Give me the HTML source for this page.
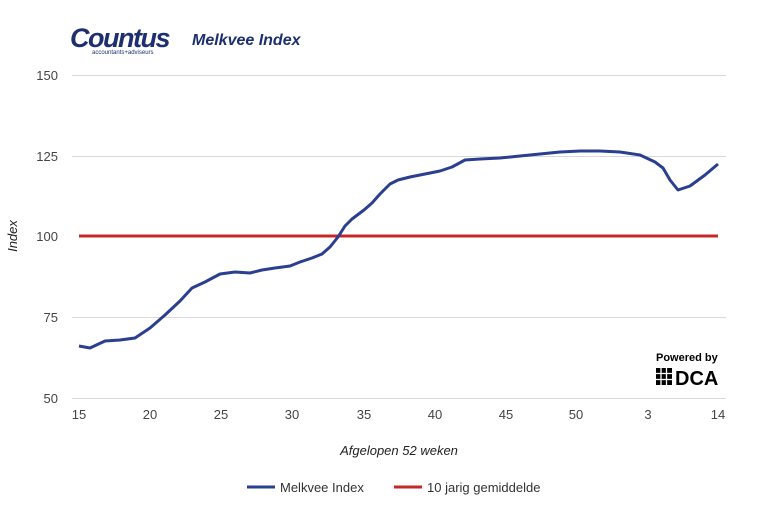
<!DOCTYPE html>
<html><head><meta charset="utf-8"><style>
body{margin:0;background:#fff;width:772px;height:512px;overflow:hidden;font-family:"Liberation Sans",sans-serif}
</style></head><body>
<svg width="772" height="512" xmlns="http://www.w3.org/2000/svg" font-family="Liberation Sans, sans-serif">
<text x="70" y="47" font-size="27" font-weight="bold" fill="#1d2f6e" font-style="italic" letter-spacing="-1.5">Countus</text>
<text x="92" y="54" font-size="6" fill="#1d2f6e">accountants+adviseurs</text>
<text x="192" y="45" font-size="16" font-weight="bold" font-style="italic" fill="#1d2f6e">Melkvee Index</text>
<g stroke="#d9d9d9" stroke-width="1">
<line x1="72" x2="726" y1="75.5" y2="75.5"/>
<line x1="72" x2="726" y1="156.5" y2="156.5"/>
<line x1="72" x2="726" y1="317.5" y2="317.5"/>
<line x1="72" x2="726" y1="398.5" y2="398.5"/>
</g>
<g font-size="13" fill="#444" text-anchor="end">
<text x="58" y="80">150</text><text x="58" y="161">125</text><text x="58" y="241">100</text><text x="58" y="322">75</text><text x="58" y="403">50</text>
</g>
<text transform="translate(17,236) rotate(-90)" font-size="13" font-style="italic" fill="#222" text-anchor="middle">Index</text>
<g font-size="13" fill="#444" text-anchor="middle">
<text x="79" y="419">15</text><text x="150" y="419">20</text><text x="221" y="419">25</text><text x="292" y="419">30</text><text x="364" y="419">35</text><text x="435" y="419">40</text><text x="506" y="419">45</text><text x="576" y="419">50</text><text x="648" y="419">3</text><text x="718" y="419">14</text>
</g>
<text x="399" y="455" font-size="13" font-style="italic" fill="#222" text-anchor="middle">Afgelopen 52 weken</text>
<line x1="79" x2="718" y1="236" y2="236" stroke="#c62828" stroke-width="3"/>
<polyline fill="none" stroke="#2a3f8f" stroke-width="3" stroke-linejoin="round" points="79,346 90,348 105,341 120,340 135,338 150,328 165,315 180,301 192,288 205,282 220,274 235,272 250,273 262,270 275,268 290,266 300,262 312,258 322,254 330,247 338,237 345,226 352,219 364,210 372,203 380,194 390,184 398,180 410,177 425,174 440,171 452,167 465,160 480,159 500,158 520,156 540,154 560,152 580,151 600,151 620,152 640,155 655,162 663,168 670,180 678,190 690,186 705,175 718,164"/>
<text x="656" y="361" font-size="11" font-weight="bold" fill="#000">Powered by</text>
<rect x="656" y="368" width="16" height="17" fill="#000"/>
<g stroke="#fff" stroke-width="1.3"><line x1="661" x2="661" y1="368" y2="385"/><line x1="666.5" x2="666.5" y1="368" y2="385"/><line x1="656" x2="672" y1="373.5" y2="373.5"/><line x1="656" x2="672" y1="379.5" y2="379.5"/></g>
<text x="675" y="385" font-size="20" font-weight="bold" fill="#000">DCA</text>
<line x1="247" x2="275" y1="487" y2="487" stroke="#2a3f8f" stroke-width="3"/>
<text x="280" y="492" font-size="13" fill="#333">Melkvee Index</text>
<line x1="394" x2="422" y1="487" y2="487" stroke="#c62828" stroke-width="3"/>
<text x="427" y="492" font-size="13" fill="#333">10 jarig gemiddelde</text>
</svg>
</body></html>
